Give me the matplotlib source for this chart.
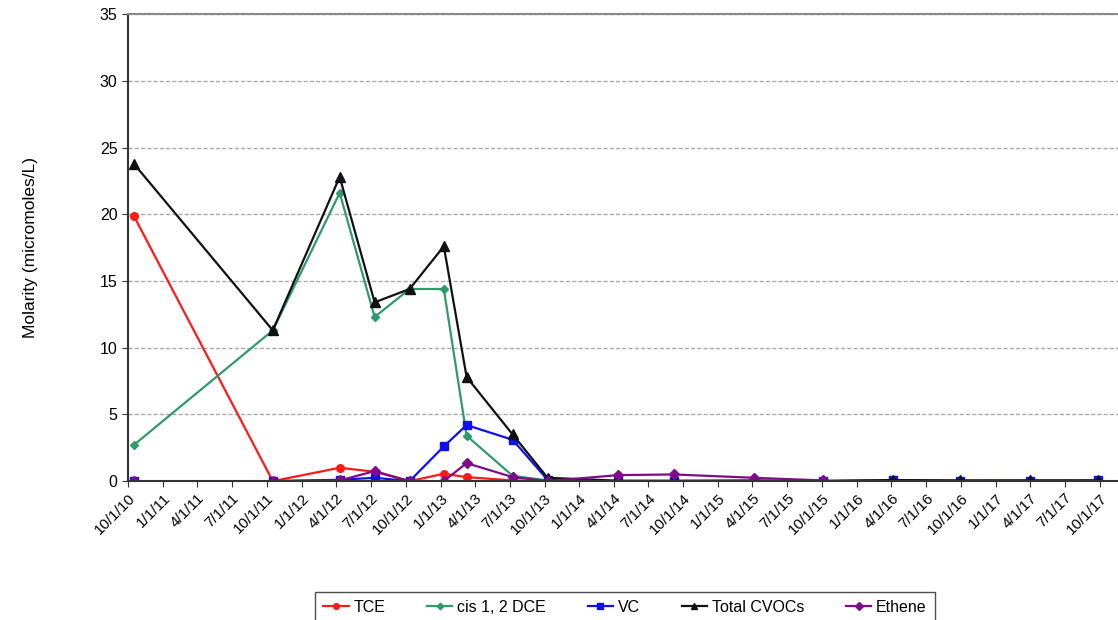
import matplotlib
matplotlib.use("Agg")
import matplotlib.pyplot as plt
import pandas as pd

plt.rcParams['font.family'] = ['Liberation Sans', 'DejaVu Sans']

# sampling dates
dates = ["2010-10-16", "2011-10-17", "2012-04-10", "2012-07-11", "2012-10-11",
         "2013-01-09", "2013-03-10", "2013-07-09", "2013-10-09", "2014-04-12",
         "2014-09-06", "2015-04-05", "2015-10-03", "2016-04-05", "2016-09-29",
         "2017-03-31", "2017-09-26"]

tce = [19.9, 0.0, 1.0, 0.7, 0.0, 0.55, 0.3, 0.05, 0.0]
dce = [2.7, 11.3, 21.6, 12.3, 14.4, 14.4, 3.4, 0.4, 0.05, 0.0, 0.0, 0.0, 0.0]
vc = [0.0, 0.0, 0.1, 0.25, 0.0, 2.6, 4.2, 3.1, 0.1, 0.0, 0.0, 0.0, 0.0,
      0.05, 0.03, 0.04, 0.05]
total = [23.8, 11.3, 22.8, 13.4, 14.4, 17.6, 7.8, 3.5, 0.25, 0.03, 0.03,
         0.05, 0.02, 0.08, 0.05, 0.05, 0.05]
ethene = [0.0, 0.0, 0.05, 0.75, 0.0, 0.0, 1.35, 0.3, 0.0, 0.45, 0.5, 0.25, 0.05]

labels = ["TCE", "cis 1, 2 DCE", "VC", "Total CVOCs", "Ethene"]

x = pd.to_datetime(dates)

fig = plt.figure(figsize=(11.18, 6.2), dpi=100)
ax = fig.add_axes([0.1145, 0.224, 0.8855, 0.7532])

ax.plot(x[:len(tce)], tce, color="#ff1a1a", marker="o", ms=5.5, lw=1.6, label=labels[0])
ax.plot(x[:len(dce)], dce, color="#2f9a6c", marker="D", ms=4.5, lw=1.6, label=labels[1])
ax.plot(x[:len(vc)], vc, color="#1010ee", marker="s", ms=5.5, lw=1.6, label=labels[2])
ax.plot(x[:len(total)], total, color="#111111", marker="^", ms=6.5, lw=1.6, label=labels[3])
ax.plot(x[:len(ethene)], ethene, color="#800a8a", marker="D", ms=5, lw=1.6, label=labels[4])

ax.set_ylim(0, 35)
ax.set_yticks(range(0, 36, 5))
ax.set_xlim(pd.Timestamp("2010-10-01"), pd.Timestamp("2017-11-18"))

quarters = pd.date_range("2010-10-01", "2017-10-01", freq="QS-OCT")
ax.set_xticks(quarters)
ax.set_xticklabels([f"{d.month}/{d.day}/{d.year % 100}" for d in quarters],
                   rotation=45, ha="right", rotation_mode="anchor", fontsize=11)
ax.tick_params(axis="y", labelsize=11.5, length=4, color="#333333")
ax.tick_params(axis="x", length=4, color="#333333", pad=3)

ax.grid(axis="y", color="#aaaaaa", linestyle=(0, (3, 1.5)), linewidth=1)
ax.set_axisbelow(True)

ax.spines["right"].set_visible(False)
ax.spines["top"].set_color("#888888")
ax.spines["top"].set_linewidth(1.5)
for side in ["left", "bottom"]:
    ax.spines[side].set_color("#333333")
    ax.spines[side].set_linewidth(1.5)

fig.text(0.027, 0.224 + 0.7532 / 2, "Molarity (micromoles/L)", rotation=90,
         ha="center", va="center", fontsize=12.5)

leg = fig.legend(loc="upper center", bbox_to_anchor=(0.559, 0.058), ncol=5,
                 fontsize=11.5, frameon=True, fancybox=False, handlelength=1.6,
                 handletextpad=0.3, columnspacing=2.6, borderpad=0.5,
                 markerscale=0.75)
leg.get_frame().set_edgecolor("#222222")
leg.get_frame().set_linewidth(1)

fig.savefig("out.png", dpi=100)
